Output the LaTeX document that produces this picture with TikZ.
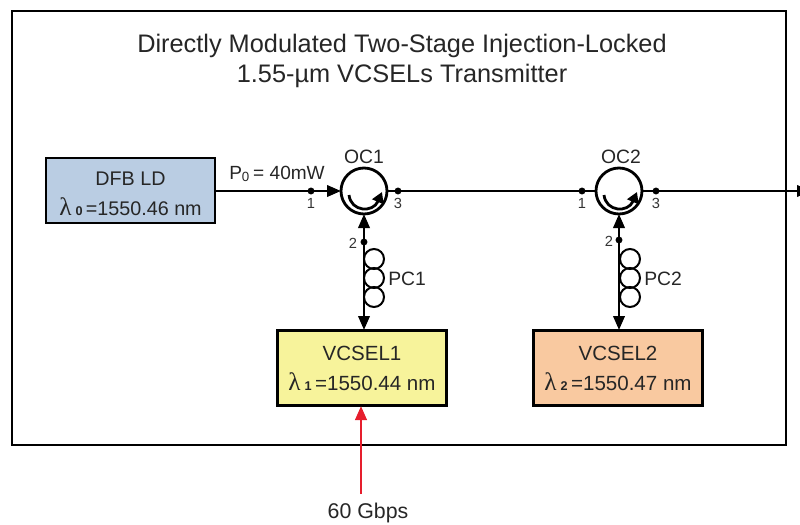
\documentclass[tikz,border=0pt]{standalone}
\usepackage{fontspec}
\setmainfont{Liberation Sans}
\newfontfamily\lamfont{Liberation Serif}
\usetikzlibrary{arrows.meta}
\definecolor{bluefill}{RGB}{186,205,227}
\definecolor{yellowfill}{RGB}{247,243,155}
\definecolor{orangefill}{RGB}{249,201,160}
\definecolor{redarrow}{RGB}{230,30,45}
\newcommand{\lam}[1]{{\lamfont\fontsize{19}{19}\selectfont λ}\hspace{3pt}{\fontsize{9.5}{9.5}\selectfont\bfseries #1}\hspace{2.5pt}}
\tikzset{
  x=0.75pt,y=-0.75pt,
  txt/.style={font=\fontsize{14.5}{18}\selectfont,text=black!85,inner sep=0pt},
  smalltxt/.style={font=\fontsize{11}{11}\selectfont,text=black!80,inner sep=0pt},
  boxnode/.style={draw=black,line width=1.9pt,minimum width=127pt,minimum height=56pt,inner sep=0pt,align=center,font=\fontsize{15.4}{22.5}\selectfont,text=black!85},
  circ/.style={circle,draw=black,line width=2.1pt,minimum size=34.5pt,inner sep=0pt,fill=white},
  coil/.style={circle,draw=black,line width=1.5pt,minimum size=15pt,inner sep=0pt},
  wire/.style={draw=black,line width=2pt},
  tip/.style={-{Triangle[length=10.5pt,width=8.5pt]}},
  tips/.style={{Triangle[length=10.5pt,width=8.5pt]}-{Triangle[length=10.5pt,width=8.5pt]}},
  dot/.style={circle,fill=black,minimum size=5.2pt,inner sep=0pt},
  swirl/.style={line width=2.1pt,-{Triangle[length=8pt,width=9pt]}},
}
\begin{document}
\begin{tikzpicture}
\useasboundingbox (0,0) rectangle (800,525);
\clip (0,0) rectangle (800,525);
\node[draw=black,line width=1.7pt,minimum width=580.5pt,minimum height=325.5pt,inner sep=0pt] (frame) at (399,228) {};
\node[font=\fontsize{19}{22.5}\selectfont,text=black!85,align=center,inner sep=0pt] (title) at (402,61) {Directly Modulated Two-Stage Injection-Locked\\1.55-µm VCSELs Transmitter};

\node[boxnode,fill=bluefill,minimum width=126.5pt,minimum height=48.5pt,font=\fontsize{14.8}{22.5}\selectfont] (dfb) at (130.5,190.5) {\rule{0pt}{15pt}DFB LD\\\lam{0}=1550.46 nm};
\node[boxnode,fill=yellowfill] (v1) at (362,368) {VCSEL1\\\lam{1}=1550.44 nm};
\node[boxnode,fill=orangefill] (v2) at (618,368) {VCSEL2\\\lam{2}=1550.47 nm};

\coordinate (out) at (811,191);
\coordinate (sig) at (361,494);
\coordinate (v1top) at (364,330);
\coordinate (v2top) at (619,330);
\coordinate (oc1bot) at (364,214);
\coordinate (oc2bot) at (619,214);
\coordinate (v1bot) at (361,406);
\coordinate (oc1west) at (341,191);
\coordinate (oc1east) at (387,191);
\coordinate (oc2west) at (596,191);
\coordinate (oc2east) at (642,191);
\coordinate (dfbout) at (215,191);

\draw[wire,tip] (dfbout) -- (oc1west);
\draw[wire] (oc1east) -- (oc2west);
\draw[wire,tip] (oc2east) -- (out);
\draw[wire,tips] (oc1bot) -- (v1top);
\draw[wire,tips] (oc2bot) -- (v2top);
\draw[draw=redarrow,line width=2.15pt,tip] (sig) -- (v1bot);

\node[circ] (oc1) at (364,191) {};
\node[circ] (oc2) at (619,191) {};
\node[txt] (oc1l) at (364,157) {OC1};
\node[txt] (oc2l) at (621,157) {OC2};
\draw[swirl] (349,195) .. controls (351,212) and (373,213) .. (382,192);
\draw[swirl] (604,195) .. controls (606,212) and (628,213) .. (637,192);

\foreach \n/\x in {1/374,2/630}{
  \node[coil] (c\n a) at (\x,259) {};
  \node[coil] (c\n b) at (\x,278) {};
  \node[coil] (c\n c) at (\x,297) {};
}
\node[txt,anchor=west] (pc1) at (388,279) {PC1};
\node[txt,anchor=west] (pc2) at (644,279) {PC2};

\node[dot] (d11) at (311,191) {};
\node[dot] (d13) at (398,191) {};
\node[dot] (d12) at (364,242) {};
\node[dot] (d21) at (582,191) {};
\node[dot] (d23) at (656,191) {};
\node[dot] (d22) at (619,240) {};
\node[smalltxt] (n11) at (311,203) {1};
\node[smalltxt] (n13) at (398,203) {3};
\node[smalltxt] (n12) at (353,243) {2};
\node[smalltxt] (n21) at (582,203) {1};
\node[smalltxt] (n23) at (656,203) {3};
\node[smalltxt] (n22) at (609,241) {2};

\node[txt,font=\fontsize{14.3}{17}\selectfont,anchor=base west] (p0) at (229,179) {P\textsubscript{\fontsize{10}{10}\selectfont 0}\,= 40mW};
\node[txt,font=\fontsize{16}{17}\selectfont] (rate) at (368,513) {60 Gbps};
\end{tikzpicture}
\end{document}
